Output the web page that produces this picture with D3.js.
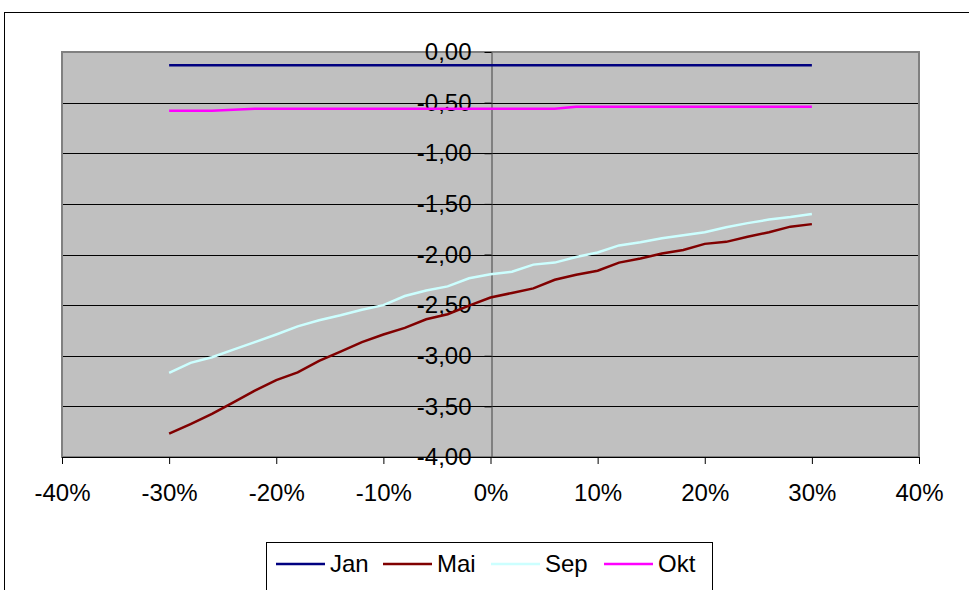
<!DOCTYPE html>
<html>
<head>
<meta charset="utf-8">
<script src="https://cdn.jsdelivr.net/npm/d3@7"></script>
<style>
  body { margin: 0; background: #fff; }
  text { font-family: "Liberation Sans", Arial, sans-serif; }
</style>
</head>
<body>
<svg id="chart" width="969" height="590"></svg>
<script>
// x values in percent, 2% steps
let xs = d3.range(-30, 31, 2)
let xTicks = [-40, -30, -20, -10, 0, 10, 20, 30, 40]
let yTicks = [0, -0.5, -1, -1.5, -2, -2.5, -3, -3.5, -4]

let jan = xs.map(() => -0.13)
let mai = [-3.77, -3.675, -3.575, -3.46, -3.345, -3.24, -3.165, -3.05, -2.96, -2.865,
  -2.79, -2.725, -2.64, -2.59, -2.505, -2.425, -2.38, -2.335, -2.25, -2.2,
  -2.16, -2.08, -2.04, -1.99, -1.955, -1.895, -1.875, -1.825, -1.78, -1.725, -1.7]
let sep = [-3.17, -3.07, -3.015, -2.94, -2.865, -2.79, -2.71, -2.65, -2.6, -2.545,
  -2.5, -2.41, -2.355, -2.315, -2.235, -2.195, -2.17, -2.1, -2.08, -2.025,
  -1.98, -1.91, -1.88, -1.84, -1.81, -1.78, -1.73, -1.69, -1.655, -1.63, -1.6]
let okt = [-0.58, -0.58, -0.58, -0.57, -0.56, -0.56, -0.56, -0.56, -0.56, -0.56,
  -0.56, -0.56, -0.56, -0.56, -0.56, -0.56, -0.56, -0.56, -0.56, -0.54,
  -0.54, -0.54, -0.54, -0.54, -0.54, -0.54, -0.54, -0.54, -0.54, -0.54, -0.54]

let series = [
  { name: 'Jan', values: jan, color: '#000080' },
  { name: 'Mai', values: mai, color: '#800000' },
  { name: 'Sep', values: sep, color: '#CCFFFF' },
  { name: 'Okt', values: okt, color: '#FF00FF' },
]

let locale = d3.formatLocale({ decimal: ',', thousands: '.', grouping: [3], currency: ['', ''], minus: '-' })
let fmtY = locale.format('.2f')
let fmtX = d => locale.format('d')(d) + '%'

let svg = d3.select('#chart')
let plot = { left: 62, right: 919, top: 52, bottom: 457 }
let fontSize = 24

let x = d3.scaleLinear().domain([-40, 40]).range([plot.left, plot.right])
let y = d3.scaleLinear().domain([-4, 0]).range([plot.bottom, plot.top])

// outer chart frame
svg.append('rect')
  .attr('x', 4.5).attr('y', 12.5)
  .attr('width', 980).attr('height', 600)
  .attr('fill', '#fff').attr('stroke', '#000').attr('stroke-width', 1)

// plot background
svg.append('rect')
  .attr('x', plot.left).attr('y', plot.top)
  .attr('width', plot.right - plot.left).attr('height', plot.bottom - plot.top)
  .attr('fill', '#C0C0C0')

// gridlines
svg.append('g')
  .selectAll('line')
  .data(yTicks.filter(d => d !== 0 && d !== -4))
  .join('line')
  .attr('x1', plot.left).attr('x2', plot.right)
  .attr('y1', d => Math.round(y(d)) + 0.5).attr('y2', d => Math.round(y(d)) + 0.5)
  .attr('stroke', '#000').attr('stroke-width', 1)

// plot border
svg.append('rect')
  .attr('x', plot.left).attr('y', plot.top)
  .attr('width', plot.right - plot.left).attr('height', plot.bottom - plot.top)
  .attr('fill', 'none').attr('stroke', '#808080').attr('stroke-width', 2)

// x axis along bottom
let xAxis = svg.append('g')
  .attr('transform', `translate(0,${plot.bottom})`)
  .call(d3.axisBottom(x).tickValues(xTicks).tickFormat(fmtX).tickSize(7).tickPadding(20))
xAxis.select('.domain').attr('stroke', '#000')
xAxis.selectAll('text').attr('font-size', fontSize).attr('fill', '#000')
  .attr('font-family', '"Liberation Sans", Arial, sans-serif')

// y axis at x = 0
let yAxis = svg.append('g')
  .attr('transform', `translate(${Math.round(x(0)) + 0.5},0)`)
  .call(d3.axisLeft(y).tickValues(yTicks).tickFormat(fmtY).tickSize(7).tickSizeOuter(0).tickPadding(13))
yAxis.select('.domain').attr('stroke', '#404040')
yAxis.selectAll('text').attr('font-size', fontSize).attr('fill', '#000')
  .attr('font-family', '"Liberation Sans", Arial, sans-serif')

// series lines
let line = d3.line()
  .x((d, i) => x(xs[i]))
  .y(d => y(d))

svg.append('g')
  .selectAll('path')
  .data(series)
  .join('path')
  .attr('d', s => line(s.values))
  .attr('fill', 'none')
  .attr('stroke', s => s.color)
  .attr('stroke-width', 2.5)

// legend
let legend = svg.append('g').attr('transform', 'translate(266,542)')
legend.append('rect')
  .attr('x', 0.5).attr('y', 0.5)
  .attr('width', 446).attr('height', 70)
  .attr('fill', '#fff').attr('stroke', '#000')

let legendX = [10, 117, 225, 338]
let items = legend.selectAll('g.item')
  .data(series)
  .join('g')
  .attr('class', 'item')
  .attr('transform', (d, i) => `translate(${legendX[i]},22)`)
items.append('line')
  .attr('x1', 0).attr('x2', 49)
  .attr('y1', 0).attr('y2', 0)
  .attr('stroke', d => d.color).attr('stroke-width', 2.5)
items.append('text')
  .attr('x', 54).attr('y', 8)
  .attr('font-size', fontSize)
  .text(d => d.name)
</script>
</body>
</html>
